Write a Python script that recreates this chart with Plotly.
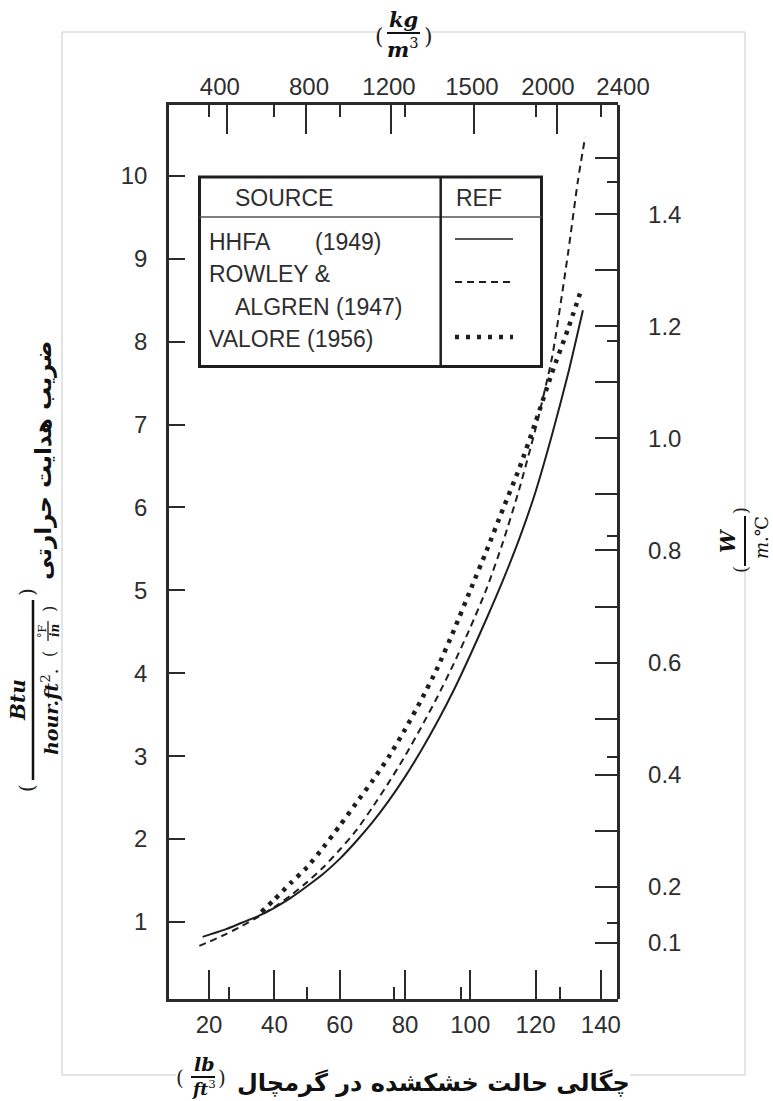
import plotly.graph_objects as go

# ---------------- data ----------------
hhfa_density = [18, 25, 30, 35, 40, 45, 50, 55, 60, 65, 70, 75, 80, 85, 90, 95,
                100, 105, 110, 115, 120, 125, 130, 134.5]
hhfa_k = [0.82, 0.91, 0.99, 1.07, 1.17, 1.29, 1.43, 1.58, 1.76, 1.97, 2.20, 2.46,
          2.75, 3.07, 3.42, 3.80, 4.22, 4.66, 5.12, 5.62, 6.19, 6.87, 7.62, 8.38]

rowley_density = [17, 20, 25, 30, 35, 40, 45, 50, 55, 60, 65, 70, 75, 80, 85, 90,
                  95, 100, 105, 110, 115, 120, 125, 130, 133, 135.2]
rowley_k = [0.71, 0.76, 0.85, 0.95, 1.06, 1.18, 1.32, 1.48, 1.66, 1.87, 2.10, 2.38,
            2.68, 3.00, 3.35, 3.72, 4.12, 4.55, 5.02, 5.58, 6.22, 6.95, 7.80, 9.08,
            9.95, 10.47]

valore_density = [36, 40, 45, 50, 55, 60, 65, 70, 75, 80, 85, 90, 95, 100, 105,
                  110, 115, 120, 125, 130, 133.6]
valore_k = [1.12, 1.27, 1.47, 1.66, 1.90, 2.16, 2.43, 2.70, 2.99, 3.32, 3.68, 4.07,
            4.52, 5.00, 5.48, 5.98, 6.47, 7.03, 7.62, 8.16, 8.58]

bottom_ticks = [20, 40, 60, 80, 100, 120, 140]
bottom_minor = [26.2, 50.1, 76.5, 97.1, 127.5]

top_labels = ["400", "800", "1200", "1500", "2000", "2400"]
top_label_pos = [23.3, 50.6, 75.1, 100.5, 123.8, 146.8]   # in lb/ft3 equivalents
top_major = [25.4, 49.6, 75.7, 101.2, 126.5]
top_minor = [20, 40, 60, 80, 120, 140]

left_ticks = [1, 2, 3, 4, 5, 6, 7, 8, 9, 10]

right_label_vals = [0.1, 0.2, 0.4, 0.6, 0.8, 1.0, 1.2, 1.4]
right_labels = ["0.1", "0.2", "0.4", "0.6", "0.8", "1.0", "1.2", "1.4"]
right_unlabeled = [0.3, 0.5, 0.7, 0.9, 1.1, 1.3, 1.5]
right_short = [0.136, 0.432, 0.826, 1.174, 1.457]

legend_sources = ["HHFA", "ROWLEY &", "ALGREN (1947)", "VALORE (1956)"]

# ---------------- geometry ----------------
W, H = 773, 1101
L, R, T, B = 169, 100, 105, 102
PW = W - L - R
PH = H - T - B
X_RANGE = [7.71, 145.1]
PX_PER_LB = 448.5 / (X_RANGE[1] - X_RANGE[0])
XD = 448.5 / PW
Y_RANGE = [0.07, 10.855]
Y2_RANGE = [0.0, 1.5946]


def px(x):
    return (x - L) / PW


def py(y):
    return (H - B - y) / PH


INK = "#1e1e1e"
AX = "#2a2a2a"
TXT = "#2e2e2e"
TICKFONT = dict(family="Liberation Sans, Arial, sans-serif", size=24, color=TXT)
SANS = "Liberation Sans, Arial, sans-serif"
MATH = "DejaVu Serif, Liberation Serif, serif"
FA = "DejaVu Sans, Noto Sans, sans-serif"

fig = go.Figure()
fig.add_trace(go.Scatter(x=hhfa_density, y=hhfa_k, mode="lines", name="HHFA (1949)",
                         line=dict(color=INK, width=2, shape="spline", smoothing=0.6)))
fig.add_trace(go.Scatter(x=rowley_density, y=rowley_k, mode="lines", name="ROWLEY & ALGREN (1947)",
                         line=dict(color=INK, width=2, dash="7px,5px", shape="spline", smoothing=0.6)))
fig.add_trace(go.Scatter(x=valore_density, y=valore_k, mode="lines", name="VALORE (1956)",
                         line=dict(color=INK, width=4.5, dash="4px,6px", shape="spline", smoothing=0.6)))

# empty helper traces so that the secondary axes are drawn
for xa, ya in [("x2", "y"), ("x3", "y"), ("x", "y2"), ("x", "y3")]:
    fig.add_trace(go.Scatter(x=[None], y=[None], xaxis=xa, yaxis=ya, mode="lines",
                             hoverinfo="skip", showlegend=False))

fig.update_layout(
    width=W, height=H,
    margin=dict(l=L, r=R, t=T, b=B, pad=0),
    paper_bgcolor="white", plot_bgcolor="rgba(0,0,0,0)",
    showlegend=False,
    xaxis=dict(domain=[0, XD], range=X_RANGE, tickmode="array", tickvals=bottom_ticks,
               ticks="inside", ticklen=29, tickwidth=2, tickcolor=AX,
               showline=True, linewidth=2.5, linecolor=AX, showgrid=False, zeroline=False,
               tickfont=TICKFONT, ticklabelstandoff=2,
               minor=dict(tickmode="array", tickvals=bottom_minor, ticks="inside",
                          ticklen=12, tickwidth=2, tickcolor=AX, showgrid=False)),
    xaxis2=dict(domain=[0, XD], range=X_RANGE, overlaying="x", side="top", anchor="y",
                tickmode="array", tickvals=top_major, ticks="inside", ticklen=29,
                tickwidth=2, tickcolor=AX, showticklabels=False,
                showline=True, linewidth=2.5, linecolor=AX, showgrid=False, zeroline=False,
                minor=dict(tickmode="array", tickvals=top_minor, ticks="inside",
                           ticklen=12, tickwidth=2, tickcolor=AX, showgrid=False)),
    xaxis3=dict(domain=[0, 1], range=[X_RANGE[0], X_RANGE[0] + PW / PX_PER_LB],
                side="top", anchor="y", tickmode="array", tickvals=top_label_pos,
                ticktext=top_labels, ticks="", showline=False, showgrid=False,
                zeroline=False, tickfont=TICKFONT, ticklabelstandoff=4),
    yaxis=dict(domain=[0, 1], range=Y_RANGE, tickmode="array", tickvals=left_ticks,
               ticks="inside", ticklen=16, tickwidth=2, tickcolor=AX,
               showline=True, linewidth=2.5, linecolor=AX, showgrid=False, zeroline=False,
               tickfont=TICKFONT, ticklabelstandoff=14),
    yaxis2=dict(range=Y2_RANGE, overlaying="y", side="right", anchor="free", position=XD,
                tickmode="array", tickvals=right_label_vals, ticktext=right_labels,
                ticks="inside", ticklen=22, tickwidth=2, tickcolor=AX,
                showline=True, linewidth=2.5, linecolor=AX, showgrid=False, zeroline=False,
                tickfont=TICKFONT, ticklabelstandoff=24,
                minor=dict(tickmode="array", tickvals=right_unlabeled, ticks="inside",
                           ticklen=22, tickwidth=2, tickcolor=AX, showgrid=False)),
    yaxis3=dict(range=Y2_RANGE, overlaying="y", side="right", anchor="free", position=XD,
                tickmode="array", tickvals=right_short, ticks="inside", ticklen=11,
                tickwidth=2, tickcolor=AX, showticklabels=False, showline=False,
                showgrid=False, zeroline=False),
)

shapes = []
ann = []


def hline(x0, x1, y, color, width, dash="solid"):
    shapes.append(dict(type="line", xref="paper", yref="paper", x0=px(x0), x1=px(x1),
                       y0=py(y), y1=py(y), line=dict(color=color, width=width, dash=dash)))


def vline(x, y0, y1, color, width, dash="solid"):
    shapes.append(dict(type="line", xref="paper", yref="paper", x0=px(x), x1=px(x),
                       y0=py(y0), y1=py(y1), line=dict(color=color, width=width, dash=dash)))


def text(x, y, s, size, family=SANS, angle=0, xanchor="center", color=TXT):
    ann.append(dict(xref="paper", yref="paper", x=px(x), y=py(y), text=s, showarrow=False,
                    xanchor=xanchor, yanchor="middle", textangle=angle,
                    font=dict(family=family, size=size, color=color)))


# light outer frame (with gaps where titles sit)
FR = "#c9c9c9"
hline(62, 377, 32, FR, 1)
hline(431, 745, 32, FR, 1)
hline(62, 176, 1075, FR, 1)
hline(630, 745, 1075, FR, 1)
vline(62, 32, 1075, FR, 1)
vline(745, 32, 512, FR, 1)
vline(745, 568, 1075, FR, 1)

# legend table
LX0, LX1, LY0, LY1 = 199.5, 541.5, 177, 366.5
DIV = 440.7
shapes.append(dict(type="rect", xref="paper", yref="paper", x0=px(LX0), x1=px(LX1),
                   y0=py(LY1), y1=py(LY0), line=dict(color=INK, width=3),
                   fillcolor="white", layer="above"))
hline(LX0, LX1, 217, "#555555", 1.5)
vline(DIV, LY0, LY1, INK, 2.5)
hline(455, 513, 239, INK, 1.5)
hline(455, 513, 282, INK, 2, "7px,5px")
hline(455, 513, 337, INK, 4.5, "4px,7px")

LF = 23
text(284, 198, "SOURCE", LF)
text(479, 198, "REF", LF)
text(207, 242, legend_sources[0], LF, xanchor="left")
text(313, 242, "(1949)", LF, xanchor="left")
text(207, 274, legend_sources[1], LF, xanchor="left")
text(233, 307, legend_sources[2], LF, xanchor="left")
text(207, 339, legend_sources[3], LF, xanchor="left")

# top axis title (kg/m3)
text(379, 37, "(", 22, MATH, color="#222")
text(403, 19, "<b><i>kg</i></b>", 21, MATH, color="#111")
hline(387, 420, 33, "#111", 2)
text(403, 48, "<b><i>m</i></b><sup>3</sup>", 21, MATH, color="#111")
text(428, 37, ")", 22, MATH, color="#222")

# bottom axis title
text(433, 1083, "<b>چگالی حالت خشکشده در گرمچال</b>", 24, FA, color="#111")
text(180, 1078, "(", 20, MATH, color="#222")
text(204, 1064, "<b><i>lb</i></b>", 19, MATH, color="#111")
hline(191, 215, 1077, "#111", 2)
text(204, 1088, "<b><i>ft</i></b><sup>3</sup>", 17, MATH, color="#111")
text(222, 1078, ")", 20, MATH, color="#222")

# left axis title (rotated)
text(43, 460, "<b>ضریب هدایت حرارتی</b>", 23, FA, angle=-90, color="#111")
text(27, 592, ")", 20, MATH, angle=-90, color="#222")
text(18, 700, "<b><i>Btu</i></b>", 20, MATH, angle=-90, color="#111")
vline(33, 600, 780, "#111", 2.5)
text(50, 712, "<b><i>hour.ft</i></b><sup>2</sup>.", 19, MATH, angle=-90, color="#111")
text(49, 654, "(", 16, MATH, angle=-90, color="#222")
text(42, 631, "°F", 11, MATH, angle=-90, color="#111")
vline(48, 621, 641, "#111", 1.2)
text(55, 631, "<b><i>in</i></b>", 12, MATH, angle=-90, color="#111")
text(49, 609, ")", 16, MATH, angle=-90, color="#222")
text(27, 788, "(", 20, MATH, angle=-90, color="#222")

# right axis title (rotated)
text(740, 570, "(", 18, MATH, angle=-90, color="#222")
text(728, 541, "<b><i>W</i></b>", 20, MATH, angle=-90, color="#111")
vline(745, 516, 566, "#111", 2)
text(761, 538, "<i>m</i>.℃", 18, MATH, angle=-90, color="#111")
text(740, 511, ")", 18, MATH, angle=-90, color="#222")

fig.update_layout(shapes=shapes, annotations=ann)
fig.write_html("out.html")
